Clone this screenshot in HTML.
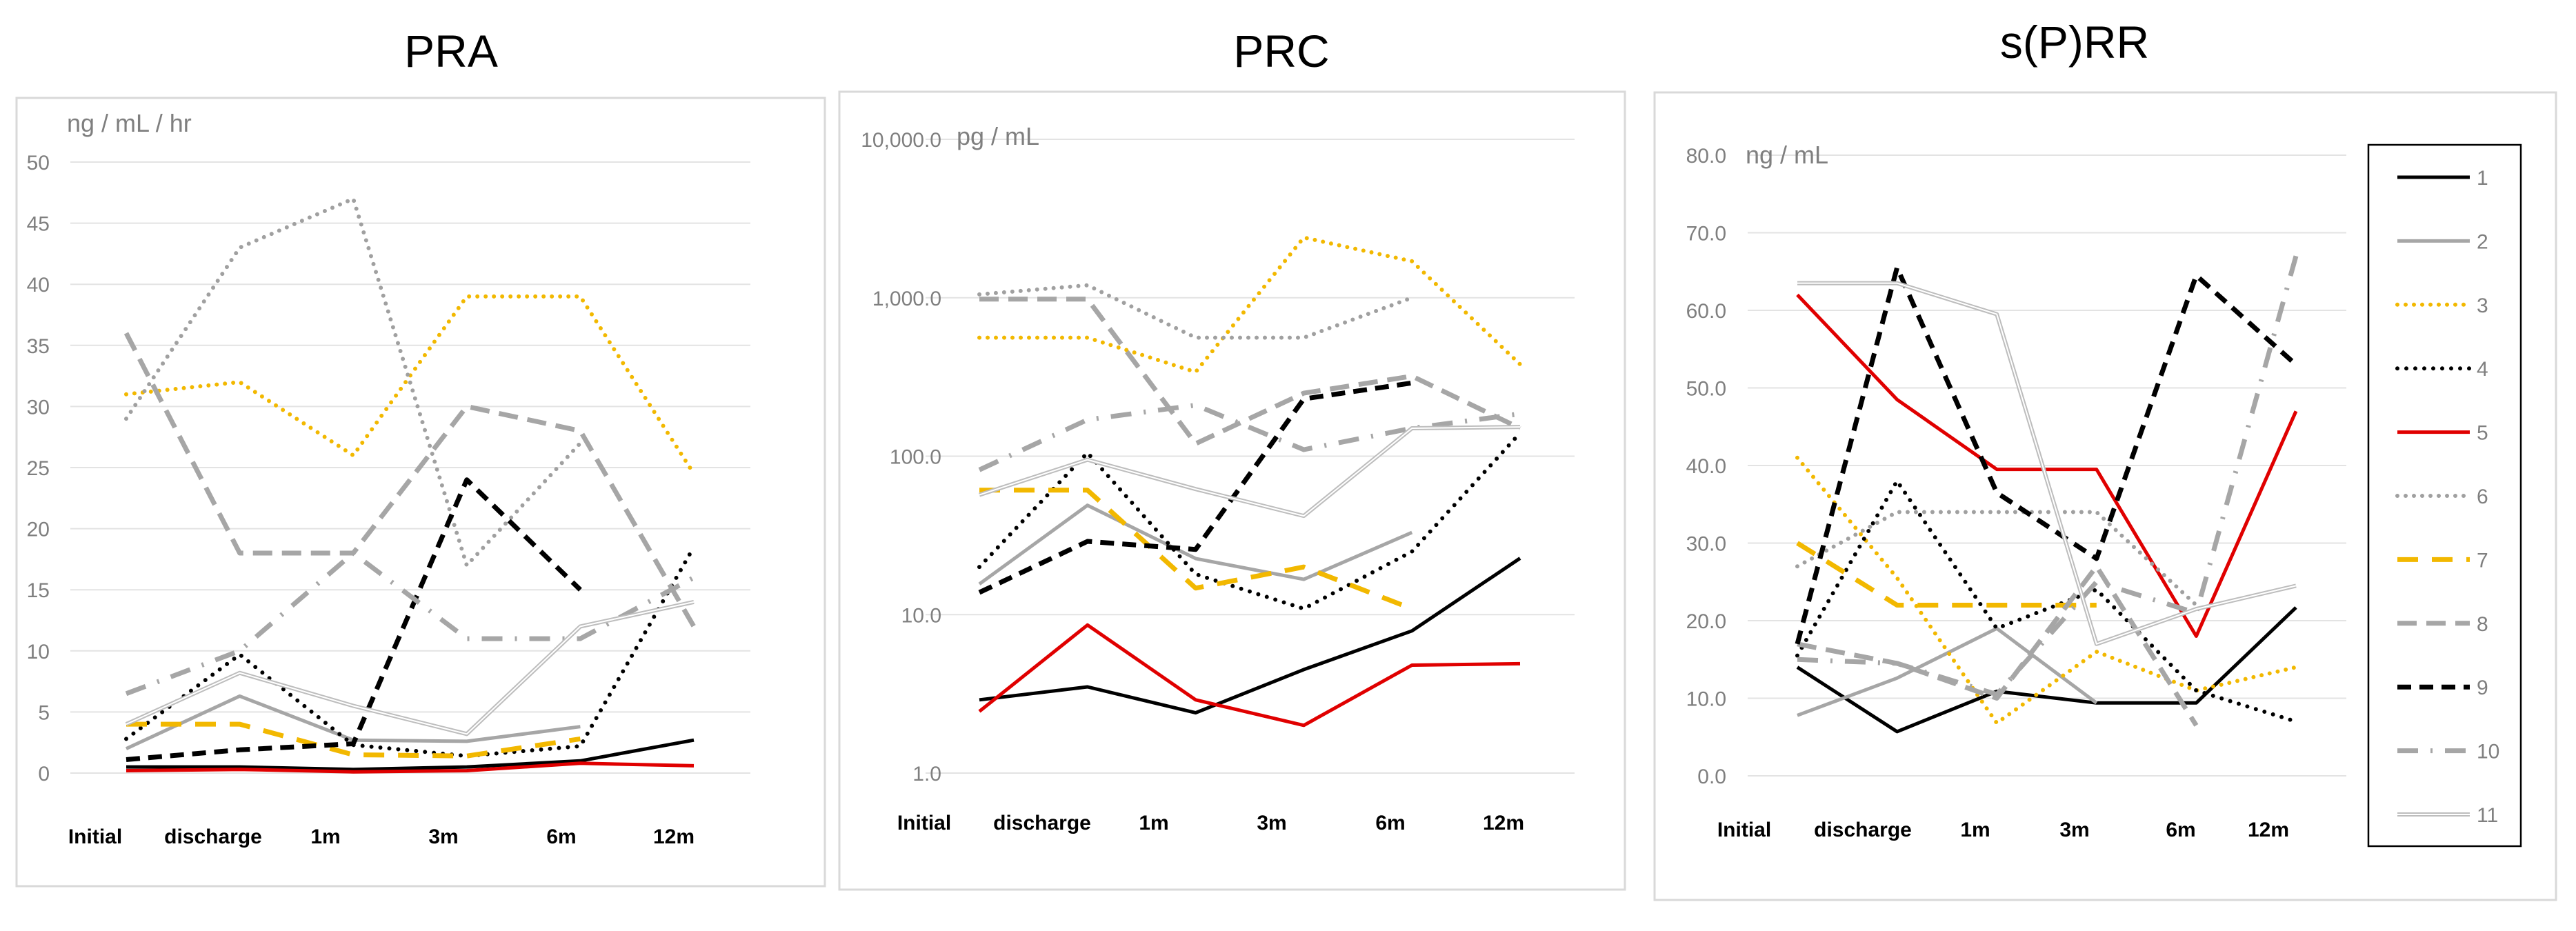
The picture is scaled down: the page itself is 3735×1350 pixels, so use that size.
<!DOCTYPE html>
<html><head><meta charset="utf-8">
<style>
html,body{margin:0;padding:0;background:#fff;}
svg{display:block;font-family:"Liberation Sans",Arial,sans-serif;}
</style></head>
<body>
<svg id="fig" width="3735" height="1350" viewBox="0 0 3735 1350" xmlns="http://www.w3.org/2000/svg"></svg>
<script>
const categories = ["Initial","discharge","1m","3m","6m","12m"];
const seriesNames = ["1","2","3","4","5","6","7","8","9","10","11"];
const praTicks = [0,5,10,15,20,25,30,35,40,45,50];
const prcTicks = [1,10,100,1000,10000];
const prcTickLabels = ["1.0","10.0","100.0","1,000.0","10,000.0"];
const sprrTicks = [0,10,20,30,40,50,60,70,80];
const praValues = [
 [0.5,0.5,0.3,0.5,1,2.7],
 [2,6.3,2.7,2.6,3.8,null],
 [31,32,26,39,39,24.5],
 [2.8,9.7,2.3,1.4,2.2,18.5],
 [0.2,0.3,0.1,0.2,0.8,0.6],
 [29,43,47,17,27,null],
 [4,4,1.5,1.4,2.8,null],
 [36,18,18,30,28,12],
 [1.1,1.9,2.4,24,15,null],
 [6.5,10,18,11,11,16],
 [4,8.2,5.5,3.2,12,14]
];
const prcValues = [
 [2.9,3.5,2.4,4.5,7.9,22.7],
 [15.6,49,22.6,16.7,33,null],
 [560,560,340,2400,1700,380],
 [20,105,18,10.9,25,140],
 [2.45,8.6,2.9,2.0,4.8,4.9],
 [1050,1200,560,560,1000,null],
 [61,61,14.7,20,10.9,null],
 [980,980,120,250,320,150],
 [13.8,29,25.8,230,290,null],
 [82,170,210,110,150,185],
 [57,95,62,42,150,153]
];
const sprrValues = [
 [14,5.7,10.9,9.4,9.4,21.7],
 [7.8,12.6,19,9.4,null,null],
 [41,25.5,6.8,16,11,14],
 [15.5,38,19,24,11,7],
 [62,48.5,39.5,39.5,18,47],
 [27,34,34,34,22,null],
 [30,22,22,22,null,null],
 [17,14.5,10,27,6.5,null],
 [17,65.5,36.5,28,64.5,53],
 [15,14.5,10.5,25,21,67],
 [63.5,63.5,59.5,17,21.5,24.5]
];

const styles = [
 {c:"#000000",w:5,d:null},
 {c:"#a6a6a6",w:5,d:null},
 {c:"#f2b800",w:6,d:"0 12"},
 {c:"#000000",w:6,d:"0 13"},
 {c:"#e00000",w:5,d:null},
 {c:"#a0a0a0",w:6,d:"0 12"},
 {c:"#f2b800",w:7,d:"30 20"},
 {c:"#a6a6a6",w:7,d:"28 14"},
 {c:"#000000",w:7,d:"20 12"},
 {c:"#a6a6a6",w:7,d:"30 18 3 18"},
 {c:"#bdbdbd",w:6,d:null,dbl:true}
];

const NS="http://www.w3.org/2000/svg";
const svg=document.getElementById("fig");
function el(tag,attrs,parent){const e=document.createElementNS(NS,tag);for(const k in attrs)e.setAttribute(k,attrs[k]);(parent||svg).appendChild(e);return e;}
function txt(s,attrs,parent){const t=el("text",attrs,parent);t.textContent=s;return t;}

function drawPanel(p){
 const g=el("g",{});
 
 
 const tt=txt(p.title,{x:p.titleX,y:p.titleY,"font-size":66,"text-anchor":"middle",fill:"#000"},g);
 
 
 const fr=el("rect",{x:p.box[0],y:p.box[1],width:p.box[2]-p.box[0],height:p.box[3]-p.box[1],fill:"none",stroke:"#d9d9d9","stroke-width":3},g);
 
 
 p.ticks.forEach((t,i)=>{
  const y=p.y(t);
  const gl=el("line",{x1:p.gx0,x2:p.gx1,y1:y,y2:y,stroke:"#e3e3e3","stroke-width":2},g);
  
  
  const tl=txt(p.tickLabels?p.tickLabels[i]:p.fmt(t),{x:p.tickX,y:y+11,"font-size":30,"text-anchor":"end",fill:"#7f7f7f"},g);
  
  
 });
 const un=txt(p.unit,{x:p.unitX,y:p.unitY,"font-size":36,fill:"#7f7f7f"},g);
 
 
 categories.forEach((c,i)=>{
  const cl=txt(c,{x:p.labelX[i],y:p.labelY,"font-size":30,"font-weight":"bold","text-anchor":"middle",fill:"#000"},g);
  
  
 });
 p.values.forEach((vals,si)=>{
  const st=styles[si];
  const segs=[];let cur=[];
  vals.forEach((v,i)=>{if(v===null){if(cur.length)segs.push(cur);cur=[];}else cur.push([p.x(i),p.y(v)]);});
  if(cur.length)segs.push(cur);
  segs.forEach(sg=>{
   if(sg.length<2)return;
   const pts=sg.map(q=>q[0].toFixed(1)+","+q[1].toFixed(1)).join(" ");
   const a={points:pts,fill:"none",stroke:st.c,"stroke-width":st.w,"stroke-linejoin":"round","stroke-linecap":st.d&&st.d.startsWith("0")?"round":"butt"};
   if(st.d)a["stroke-dasharray"]=st.d;
   const pl=el("polyline",a,g);
   
   
   if(st.dbl){
    const pw=el("polyline",{points:pts,fill:"none",stroke:"#ffffff","stroke-width":2,"stroke-linejoin":"round"},g);
    
    
   }
  });
 });
}

function catX(x0,step){return i=>x0+i*step;}

drawPanel({key:"pra",title:"PRA",titleX:654,titleY:97,box:[24,142,1196,1285],
 ticks:praTicks,fmt:t=>String(t),y:v=>1121-v*17.72,gx0:102,gx1:1088,tickX:72,
 unit:"ng / mL / hr",unitX:97,unitY:191,labelX:[138,309,472,643,814,977],labelY:1223,
 x:catX(183,164.6),values:praValues});

drawPanel({key:"prc",title:"PRC",titleX:1858,titleY:97,box:[1217,133,2356,1290],
 ticks:prcTicks,tickLabels:prcTickLabels,y:v=>1121-Math.log10(v)*229.75,gx0:1342,gx1:2283,tickX:1365,
 unit:"pg / mL",unitX:1387,unitY:210,labelX:[1340,1511,1673,1844,2016,2180],labelY:1203,
 x:catX(1420,156.8),values:prcValues});

drawPanel({key:"sprr",title:"s(P)RR",titleX:3008,titleY:84,box:[2399,134,3706,1305],
 ticks:sprrTicks,fmt:t=>t.toFixed(1),y:v=>1125-v*11.25,gx0:2534,gx1:3402,tickX:2503,
 unit:"ng / mL",unitX:2531,unitY:237,labelX:[2529,2701,2864,3008,3162,3289],labelY:1213,
 x:catX(2606,144.6),values:sprrValues});

// legend
const lg=el("g",{});


const lb=el("rect",{x:3434,y:210,width:221,height:1017,fill:"#fff",stroke:"#000","stroke-width":2.5},lg);


seriesNames.forEach((n,i)=>{
 const y=257+i*92.4;const st=styles[i];
 const a={x1:3476,x2:3581,y1:y,y2:y,stroke:st.c,"stroke-width":st.w,"stroke-linecap":st.d&&st.d.startsWith("0")?"round":"butt"};
 if(st.d)a["stroke-dasharray"]=st.d;
 const ln=el("line",a,lg);
 
 
 if(st.dbl){const w=el("line",{x1:3476,x2:3581,y1:y,y2:y,stroke:"#fff","stroke-width":2},lg);
  
  }
 const t=txt(n,{x:3591,y:y+11,"font-size":30,fill:"#7f7f7f"},lg);
 
 
});
</script>
</body></html>
